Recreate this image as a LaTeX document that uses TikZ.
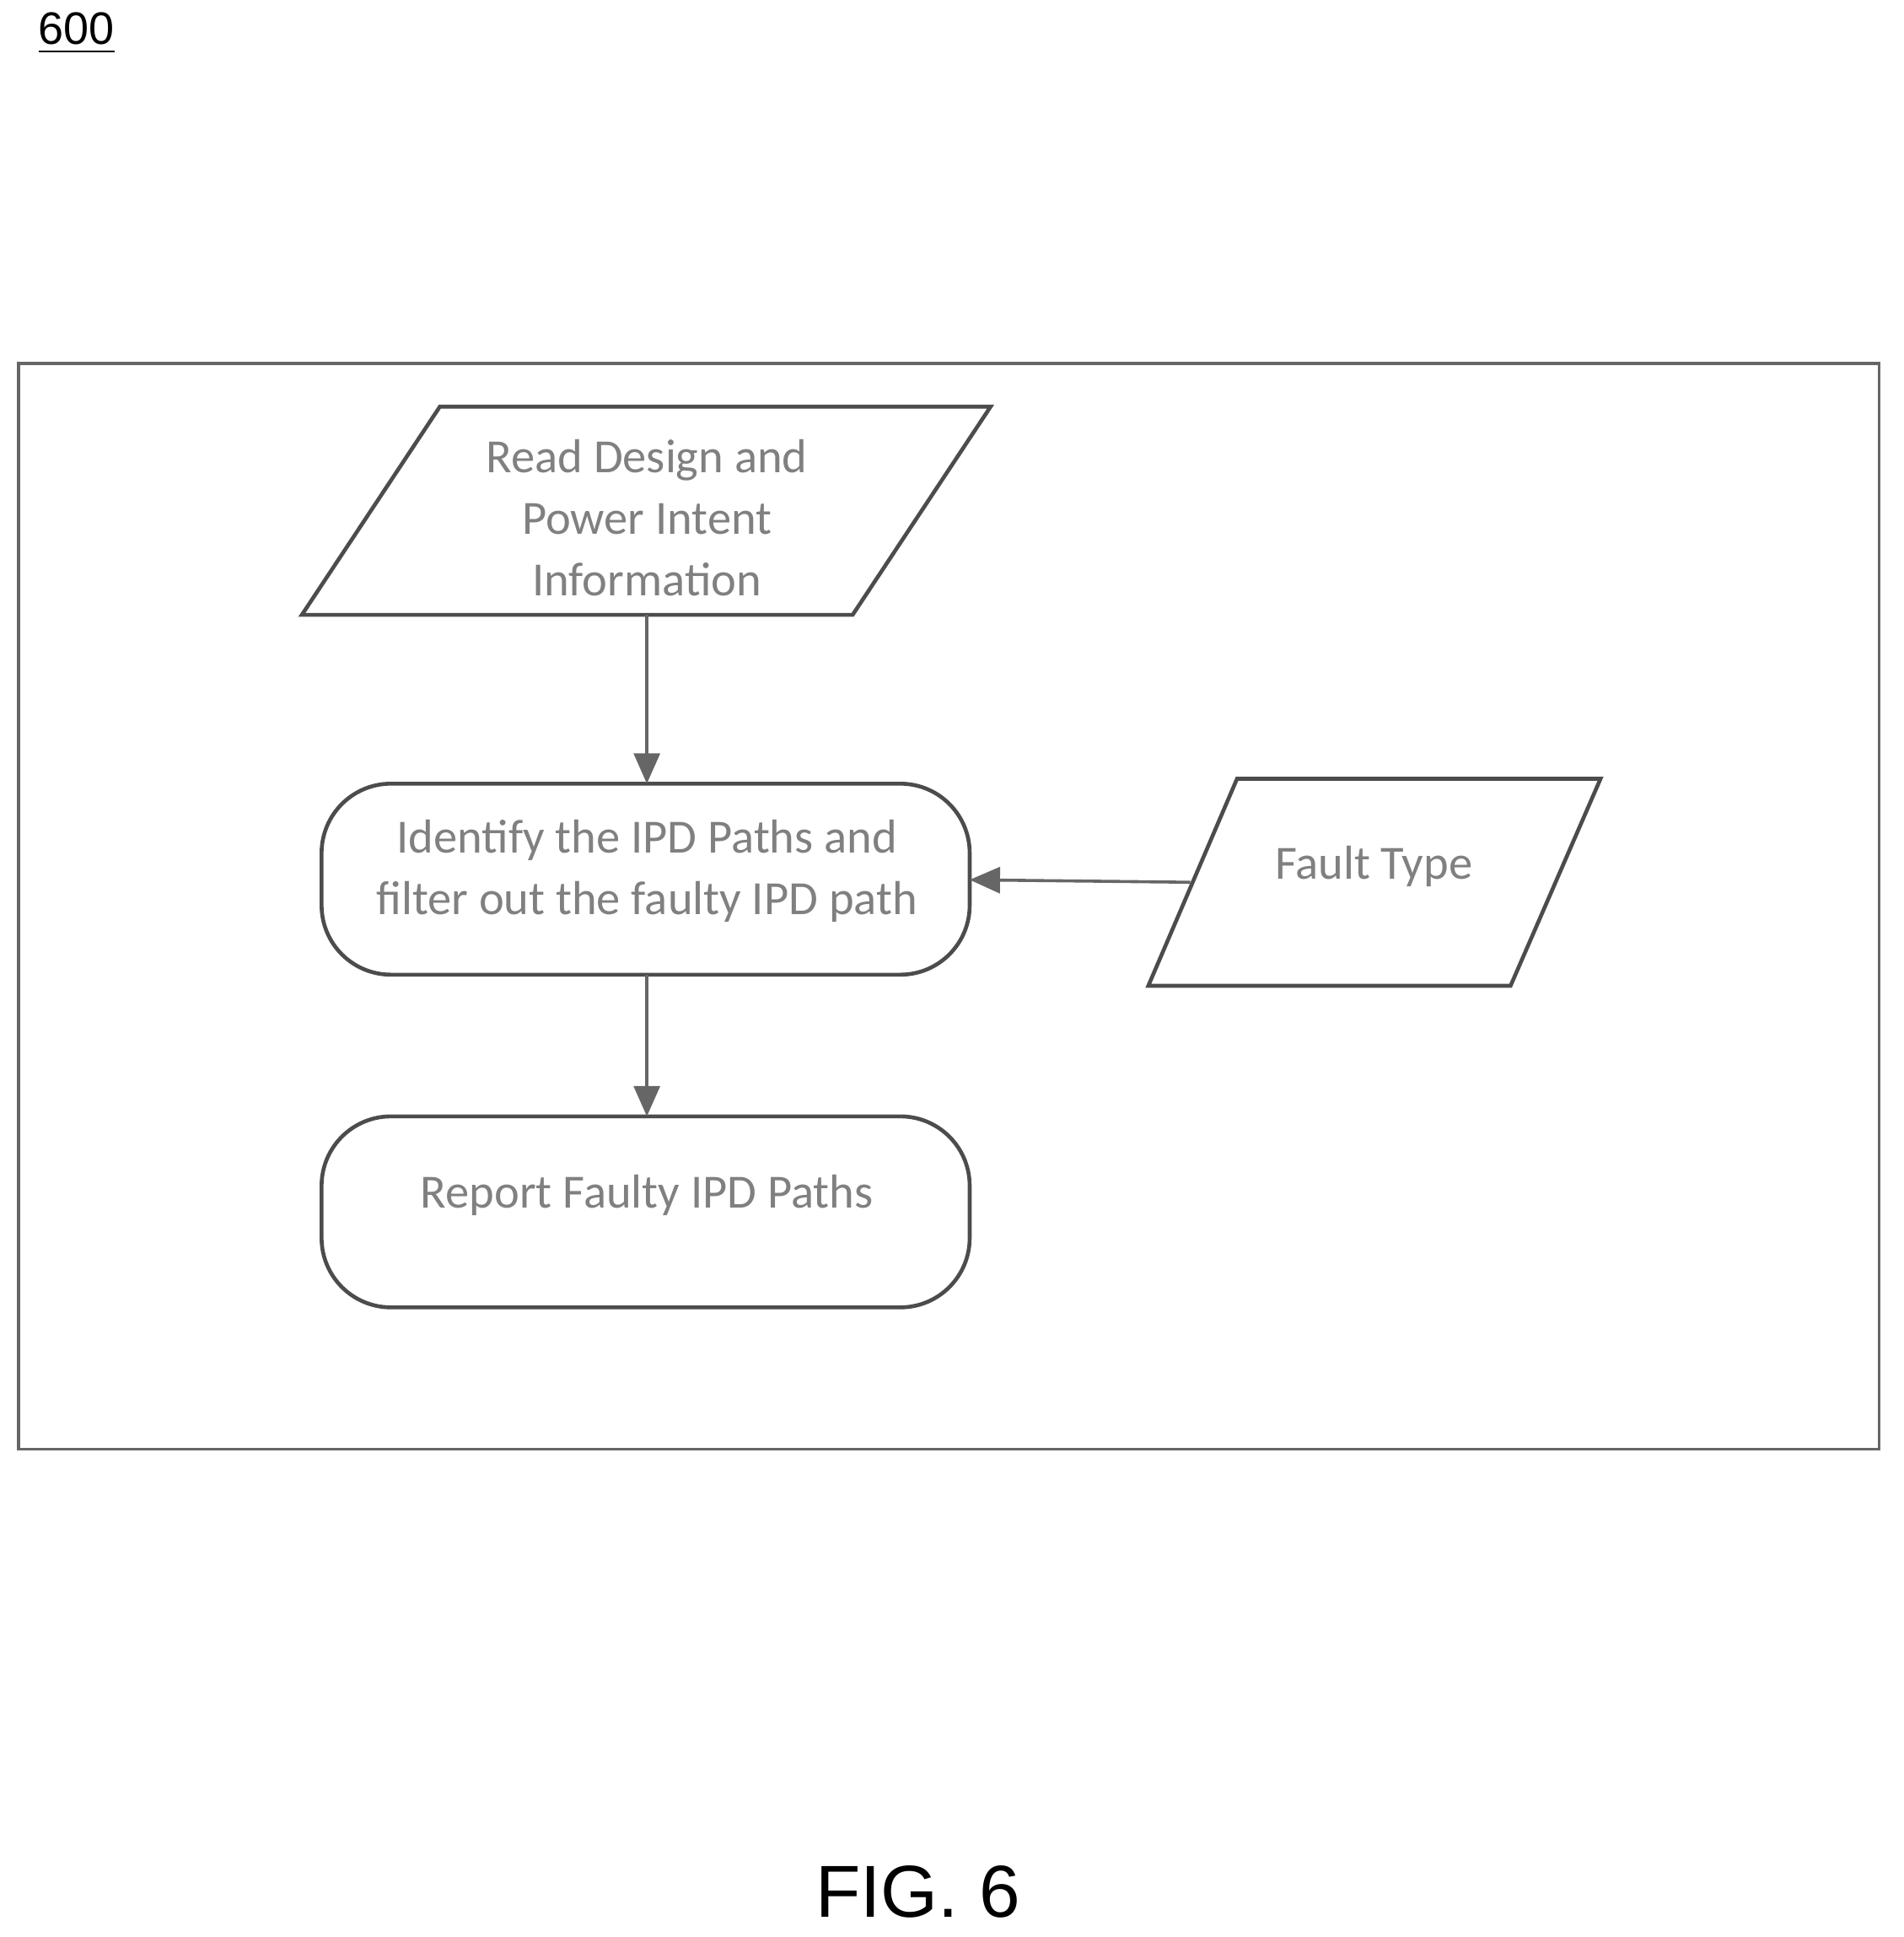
\documentclass[tikz,border=0pt]{standalone}
\usepackage{fontspec}
\setmainfont{Carlito}
\newfontfamily\figfont{Liberation Sans}
\usetikzlibrary{positioning}
\usetikzlibrary{arrows.meta}
\begin{document}
\begin{tikzpicture}[x=0.01cm, y=-0.01cm,
                    shape line/.style={draw=black!70, line width=0.9pt},
                    step text/.style={text=black!50, font=\fontsize{11pt}{14.2pt}\selectfont, align=center},
                    flow/.style={draw=black!60, line width=0.7pt, -{Triangle[length=7pt,width=6pt]}}]
    \useasboundingbox (0,0) rectangle (1545,1572);
    \node[font=\figfont\fontsize{10.5pt}{12pt}\selectfont] (num) at (62,27) {\underline{600}};
    \draw[black!60, line width=0.7pt] (15,295) rectangle (1525,1176);
    % input and process steps
    \draw[shape line] (245,499) -- (357,330) -- (804,330) -- (692,499) -- cycle;
    \node[step text] (read) at (525,420) {Read Design and\\Power Intent\\Information};
    \coordinate (readout) at (525,499);
    \draw[shape line, rounded corners=16pt] (261,636) rectangle (787,791);
    \node[step text] (ident) at (525,707) {Identify the IPD Paths and\\filter out the faulty IPD path};
    \coordinate (identin) at (525,636);
    \coordinate (identright) at (787,714);
    \coordinate (identout) at (525,791);
    \draw[shape line] (932,800) -- (1004,632) -- (1299,632) -- (1226,800) -- cycle;
    \node[step text] (fault) at (1115,703) {Fault Type};
    \coordinate (faultin) at (966,716);
    \draw[shape line, rounded corners=16pt] (261,906) rectangle (787,1061);
    \node[step text] (report) at (525,970) {Report Faulty IPD Paths};
    \coordinate (reportin) at (525,906);
    % connectors
    \draw[flow] (readout) -- (identin);
    \draw[flow] (faultin) -- (identright);
    \draw[flow] (identout) -- (reportin);
    \node[font=\figfont\fontsize{17pt}{20pt}\selectfont] (fig) at (745,1535) {FIG. 6};
\end{tikzpicture}
\end{document}
